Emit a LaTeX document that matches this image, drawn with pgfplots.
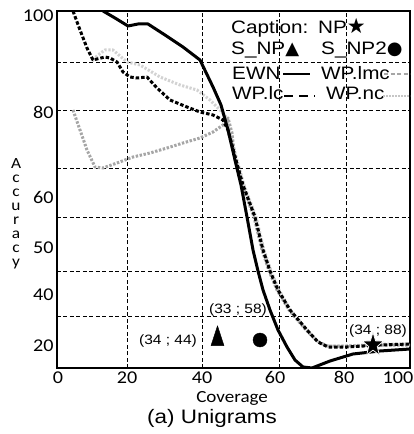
\documentclass[border=0pt]{standalone}
\usepackage{fontspec}
\setmainfont{Liberation Sans}
\newfontfamily\legfont{Liberation Sans}[FakeStretch=1.15]
\newfontfamily\tickfont{Carlito}[FakeStretch=1.12]
\newfontfamily\symfont{DejaVu Sans}
\usepackage{pgfplots}
\pgfplotsset{compat=1.18}

% filled five-pointed star
\pgfdeclareplotmark{fstar}{%
  \pgfpathmoveto{\pgfpointpolar{90}{\pgfplotmarksize}}%
  \pgfpathlineto{\pgfpointpolar{126}{0.4\pgfplotmarksize}}%
  \pgfpathlineto{\pgfpointpolar{162}{\pgfplotmarksize}}%
  \pgfpathlineto{\pgfpointpolar{198}{0.4\pgfplotmarksize}}%
  \pgfpathlineto{\pgfpointpolar{234}{\pgfplotmarksize}}%
  \pgfpathlineto{\pgfpointpolar{270}{0.4\pgfplotmarksize}}%
  \pgfpathlineto{\pgfpointpolar{306}{\pgfplotmarksize}}%
  \pgfpathlineto{\pgfpointpolar{342}{0.4\pgfplotmarksize}}%
  \pgfpathlineto{\pgfpointpolar{18}{\pgfplotmarksize}}%
  \pgfpathlineto{\pgfpointpolar{54}{0.4\pgfplotmarksize}}%
  \pgfpathclose
  \pgfusepathqfillstroke}

% axis units are pixels of the reference: X = px - 57, Y = 368 - py
\begin{document}
\begin{tikzpicture}
\useasboundingbox (-57bp,-66bp) rectangle (357bp,368bp);
\begin{axis}[
  scale only axis, width=353bp, height=357bp,
  xmin=0, xmax=353, ymin=0, ymax=357,
  axis line style={line width=2.5bp},
  xtick={1,70,145,218,287,341}, xticklabels={0,20,40,60,80,100},
  ytick={22,73,120,171,256,352}, yticklabels={20,40,50,60,80,100},
  major tick length=0pt,
  extra x ticks={70,145,222,289}, extra x tick labels={},
  extra y ticks={52,97,151,200,258,306}, extra y tick labels={},
  extra tick style={grid=major, major tick length=0pt},
  grid style={black, line width=0.9bp, dash pattern=on 4bp off 2.5bp},
  tick label style={font=\tickfont\fontsize{18bp}{20bp}\selectfont},
  /pgf/number format/assume math mode=true,
  xlabel={Coverage},
  xlabel style={font=\tickfont\fontsize{17bp}{18bp}\selectfont,
    at={(axis description cs:0.496,-0.084)}, anchor=center},
  ylabel={A\\c\\c\\u\\r\\a\\c\\y},
  ylabel style={rotate=-90, align=center,
    font=\tickfont\fontsize{15.5bp}{14bp}\selectfont,
    at={(axis description cs:-0.116,0.431)}, anchor=center},
  every axis plot/.append style={line join=round},
]
% WP.nc (light, upper)
\addplot[gray!35, line width=3bp, dash pattern=on 2.2bp off 1.6bp] coordinates {
 (36,308) (41,313) (48,318) (56,318) (63,312) (70,306) (83,303) (103,291)
 (123,283) (140,278) (153,268) (163,258) (170,250) (172,238) (180,208)
 (187,183) (199,151) (207,118) (214,97) (222,78) (234,57) (251,37) (262,25)
 (272,22) (290,22) (323,24) (353,24)};
% WP.lmc (gray, lower start)
\addplot[gray!70, line width=3bp, dash pattern=on 2.4bp off 1.6bp] coordinates {
 (16,258) (23,238) (30,218) (38,201) (46,200) (60,205) (76,211) (93,215)
 (110,220) (126,225) (143,230) (156,236) (166,243) (171,250) (175,235)
 (178,208) (185,183) (197,151) (205,118) (212,97) (220,78) (232,58) (249,38)
 (260,27) (270,22) (290,22) (323,23) (353,23)};
% WP.lc (black dashed)
\addplot[black, line width=3bp, dash pattern=on 3.5bp off 2bp] coordinates {
 (16,357) (23,338) (30,320) (36,308) (48,311) (53,310) (60,306) (66,296)
 (73,291) (80,290) (90,291) (100,280) (113,268) (130,261) (143,256)
 (156,253) (166,248) (171,238) (179,208) (186,183) (198,151) (206,118)
 (213,97) (221,78) (233,58) (250,38) (261,26) (271,21) (290,21) (323,23)
 (353,24)};
% EWN (solid)
\addplot[black, line width=3bp] coordinates {
 (46,357) (58,350) (71,342) (81,344) (91,344) (108,333) (126,321) (143,308)
 (156,281) (164,263) (171,238) (178,208) (184,183) (190,151) (196,118)
 (201,97) (206,78) (213,58) (221,38) (230,21) (238,8) (246,1) (255,0)
 (273,7) (296,14) (323,17) (353,19)};
% S_NP, S_NP2, NP
\addplot[only marks, mark=triangle*, mark size=10bp,
  mark options={xscale=0.75, yscale=1.33, fill=black, draw=black}]
  coordinates {(160.5,29)};
\addplot[only marks, mark=*, mark size=7bp, mark options={fill=black, draw=black}]
  coordinates {(203,28)};
\addplot[only marks, mark=fstar, mark size=11bp,
  mark options={yscale=1.15, fill=black, draw=white, line width=0.7bp}]
  coordinates {(316,23)};

\node[font=\legfont\fontsize{13.5bp}{15bp}\selectfont] at (axis cs:111,27) {(34 ; 44)};
\node[font=\legfont\fontsize{13.5bp}{15bp}\selectfont] at (axis cs:181,58) {(33 ; 58)};
\node[font=\legfont\fontsize{13.5bp}{15bp}\selectfont] at (axis cs:321,37) {(34 ; 88)};

% legend
\begin{scope}[every node/.style={anchor=base west, inner sep=0pt,
    font=\legfont\fontsize{18bp}{20bp}\selectfont}]
\node at (axis cs:174,334) {Caption:};
\node at (axis cs:261,334) {NP{\symfont\fontsize{21bp}{21bp}\selectfont ★}};
\node at (axis cs:174,313) {S\_NP{\symfont ▲}};
\node at (axis cs:264,313) {S\_NP2{\symfont ●}};
\node at (axis cs:175,288) {EWN};
\node at (axis cs:264,288) {WP.lmc};
\node at (axis cs:175,268) {WP.lc};
\node at (axis cs:269,268) {WP.nc};
\end{scope}
\draw[black, line width=2.5bp] (axis cs:226,294) -- (axis cs:253,294);
\draw[gray!70, line width=2bp, dash pattern=on 4bp off 2.5bp] (axis cs:327,294) -- (axis cs:353,294);
\draw[black, line width=2.5bp, dash pattern=on 9bp off 6bp] (axis cs:227,272) -- (axis cs:258,272);
\draw[gray!45, line width=1.8bp, dash pattern=on 1.5bp off 1.5bp] (axis cs:326,272) -- (axis cs:353,272);
\end{axis}
\node[font=\legfont\fontsize{19.5bp}{22bp}\selectfont] at (155bp,-50bp) {(a) Unigrams};
\end{tikzpicture}
\end{document}
